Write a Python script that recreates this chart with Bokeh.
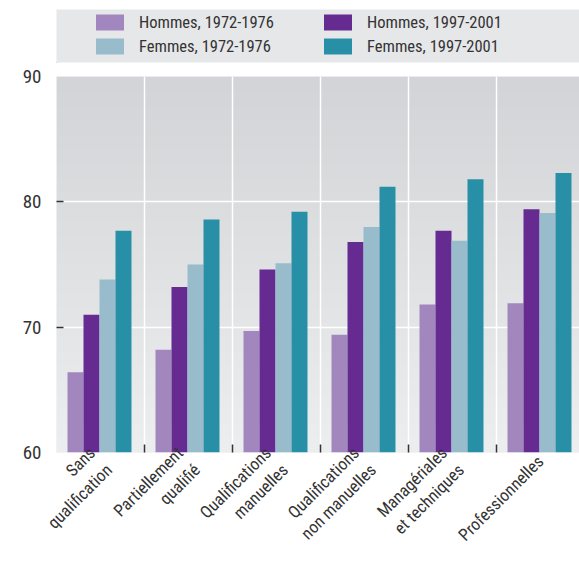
import numpy as np
from math import pi
from bokeh.plotting import figure
from bokeh.models import Range1d, FixedTicker, Legend, LegendItem
from bokeh.layouts import column
from bokeh.embed import file_html
from bokeh.resources import INLINE

# ---------------- data ----------------
categories = ["Sans\nqualification", "Partiellement\nqualifié", "Qualifications\nmanuelles",
              "Qualifications\nnon manuelles", "Managériales\net techniques", "Professionnelles"]
hommes_1972 = [66.4, 68.2, 69.7, 69.4, 71.8, 71.9]
hommes_1997 = [71.0, 73.2, 74.6, 76.8, 77.7, 79.4]
femmes_1972 = [73.8, 75.0, 75.1, 78.0, 76.9, 79.1]
femmes_1997 = [77.7, 78.6, 79.2, 81.2, 81.8, 82.3]
series_labels = ["Hommes, 1972-1976", "Hommes, 1997-2001", "Femmes, 1972-1976", "Femmes, 1997-2001"]
y_ticks = [60, 70, 80, 90]

# ---------------- style ----------------
colors = ["#a287be", "#652b91", "#98bccc", "#2890a6"]
FONT = "'Roboto Condensed', 'Liberation Sans Narrow', 'Arial Narrow', Roboto, sans-serif"
TXT = "#333333"

series = [hommes_1972, hommes_1997, femmes_1972, femmes_1997]
n = len(categories)
idx = np.arange(n)
bar_w = 16 / 88
offsets = [(19 + 16 * k) / 88 for k in range(4)]

p = figure(width=579, height=497, output_backend="svg", toolbar_location=None,
           x_range=Range1d(0, 523 / 88), y_range=Range1d(60, 90),
           min_border_left=56, min_border_right=0, min_border_top=12, min_border_bottom=106)
p.outline_line_color = None
p.background_fill_color = "#ececed"
p.border_fill_color = "white"

# gradient background
N = 256
t = np.linspace(0, 1, N)
top_c = (211, 212, 215)
bot_c = (237, 238, 239)
img = np.empty((N, 1), dtype=np.uint32)
view = img.view(dtype=np.uint8).reshape((N, 1, 4))
for c in range(3):
    view[:, 0, c] = (bot_c[c] + (top_c[c] - bot_c[c]) * t).astype(np.uint8)
view[:, 0, 3] = 255
p.image_rgba(image=[img], x=0, y=60, dw=6, dh=30, level="image")

for k, vals in enumerate(series):
    p.vbar(x=idx + offsets[k], top=vals, bottom=60, width=bar_w,
           fill_color=colors[k], line_color=None)

# grids
p.xgrid.ticker = FixedTicker(ticks=[1, 2, 3, 4, 5])
p.xgrid.grid_line_color = "white"
p.xgrid.grid_line_width = 1.5
p.ygrid.ticker = FixedTicker(ticks=[70, 80])
p.ygrid.grid_line_color = "white"
p.ygrid.grid_line_width = 1.5

# x axis
xa = p.xaxis[0]
xa.ticker = FixedTicker(ticks=[i + 0.5 for i in range(n)], minor_ticks=[1, 2, 3, 4, 5])
xa.major_label_overrides = {i + 0.5: lab for i, lab in enumerate(categories)}
xa.axis_line_color = None
xa.major_tick_line_color = None
xa.major_tick_in = 0
xa.major_tick_out = 0
xa.minor_tick_in = 8
xa.minor_tick_out = 0
xa.minor_tick_line_color = TXT
xa.minor_tick_line_width = 1.5
xa.major_label_orientation = pi / 4
xa.major_label_standoff = 6
xa.major_label_text_font = FONT
xa.major_label_text_font_size = "17px"
xa.major_label_text_color = TXT

# y axis
ya = p.yaxis[0]
ya.ticker = FixedTicker(ticks=y_ticks, minor_ticks=[70, 80])
ya.axis_line_color = None
ya.major_tick_line_color = None
ya.major_tick_in = 0
ya.major_tick_out = 0
ya.minor_tick_in = 7
ya.minor_tick_out = 0
ya.minor_tick_line_color = TXT
ya.minor_tick_line_width = 1.5
ya.major_label_standoff = 15
ya.major_label_text_font = FONT
ya.major_label_text_font_size = "19px"
ya.major_label_text_color = TXT

# ---------------- legend figure ----------------
lf = figure(width=579, height=64, output_backend="svg", toolbar_location=None,
            x_range=Range1d(0, 1), y_range=Range1d(0, 1),
            x_axis_location=None, y_axis_location=None,
            min_border_left=51, min_border_right=0, min_border_top=9, min_border_bottom=2)
lf.outline_line_color = None
lf.background_fill_color = "#e6e7e9"
lf.border_fill_color = "white"
lf.xgrid.visible = False
lf.ygrid.visible = False

items = []
for k in range(4):
    # legend-only renderers, placed outside the visible range
    r = lf.vbar(x=[-5], top=[-5], bottom=[-6], width=0.5, fill_color=colors[k], line_color=None)
    items.append(LegendItem(label=series_labels[k], renderers=[r]))
order = [0, 2, 1, 3]
legend = Legend(items=[items[i] for i in order], location=(36, 6), nrows=2, orientation="vertical",
                padding=0, margin=0, spacing=4, glyph_width=35, glyph_height=20,
                label_standoff=12, label_width=177, label_height=20,
                background_fill_alpha=0, border_line_color=None,
                label_text_font=FONT, label_text_font_size="16.5px", label_text_color=TXT)
lf.add_layout(legend)

layout = column(lf, p, spacing=0)
open("out.html", "w").write(file_html(layout, INLINE))
